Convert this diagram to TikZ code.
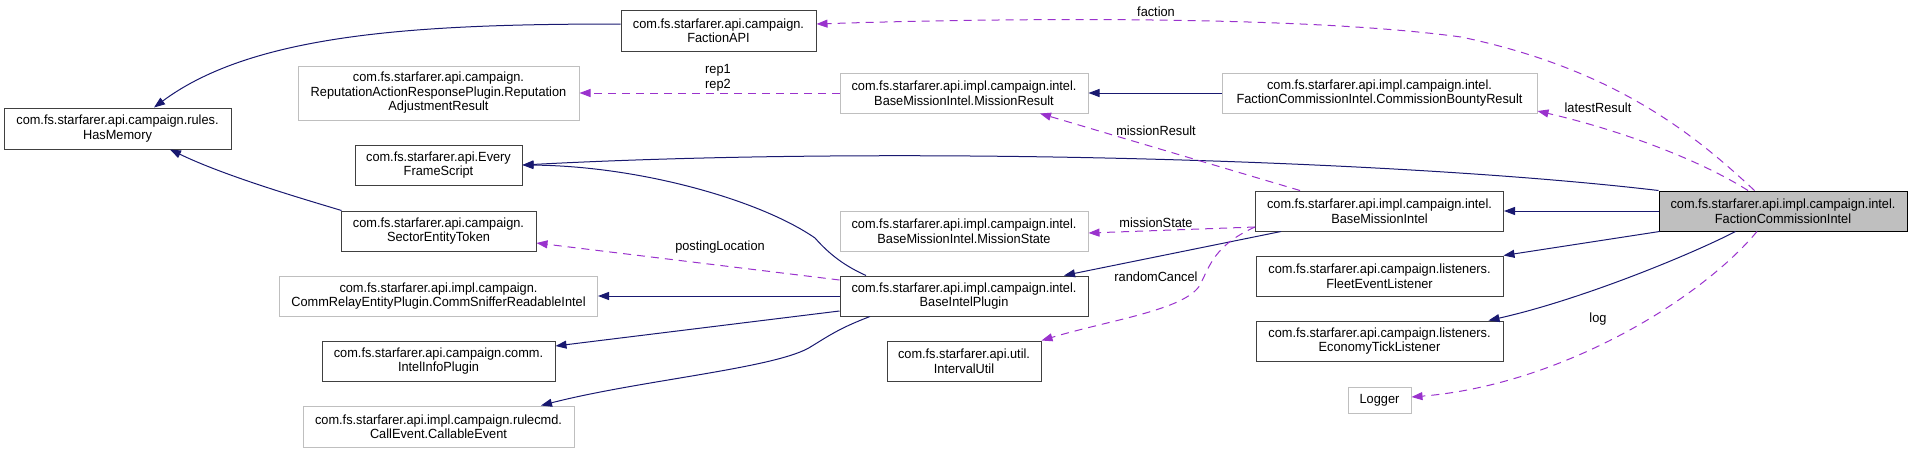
\documentclass[tikz,border=0pt]{standalone}
\usepackage{fontspec}
\setmainfont{Liberation Sans}[FakeStretch=0.96]
\usetikzlibrary{arrows.meta}
\definecolor{inhnavy}{RGB}{25,25,112}
\definecolor{useorchid}{RGB}{154,50,205}
\definecolor{docgrey}{RGB}{64,64,64}
\definecolor{undocgrey}{RGB}{191,191,191}

\begin{document}
\begin{tikzpicture}[x=1pt, y=-1pt,
    cls/.style={draw=docgrey, line width=1pt, inner sep=0pt, align=center,
                font=\fontsize{13.3}{14.5}\selectfont},
    ext/.style={cls, draw=undocgrey},
    self/.style={cls, draw=black, fill=undocgrey},
    inh/.style={line width=1pt, inhnavy, -{Triangle[length=11pt, width=8pt]}},
    use/.style={line width=1pt, useorchid, dash pattern=on 8pt off 6pt,
                -{Triangle[length=11pt, width=8pt]}},
    lbl/.style={font=\fontsize{13.3}{14.5}\selectfont, align=center, inner sep=0pt, text=black}
  ]
    \useasboundingbox (0,0) rectangle (1912,453);

    \node[cls, minimum width=227, minimum height=41] (hasmem) at (117.5,128.5)
      {com.fs.starfarer.api.campaign.rules.\\HasMemory};
    \node[cls, minimum width=195, minimum height=41] (fapi) at (718.5,30.5)
      {com.fs.starfarer.api.campaign.\\FactionAPI};

    \node[ext, minimum width=281, minimum height=54] (repres) at (438.5,93)
      {com.fs.starfarer.api.campaign.\\ReputationActionResponsePlugin.Reputation\\AdjustmentResult};
    \node[cls, minimum width=167, minimum height=40] (every) at (438.5,165)
      {com.fs.starfarer.api.Every\\FrameScript};
    \node[cls, minimum width=195, minimum height=40] (sector) at (438.5,231)
      {com.fs.starfarer.api.campaign.\\SectorEntityToken};
    \node[ext, minimum width=318, minimum height=40] (sniffer) at (438.5,296)
      {com.fs.starfarer.api.impl.campaign.\\CommRelayEntityPlugin.CommSnifferReadableIntel};
    \node[cls, minimum width=233, minimum height=40] (intelinfo) at (438.5,361)
      {com.fs.starfarer.api.campaign.comm.\\IntelInfoPlugin};
    \node[ext, minimum width=271, minimum height=41] (callable) at (438.5,426.5)
      {com.fs.starfarer.api.impl.campaign.rulecmd.\\CallEvent.CallableEvent};

    \node[ext, minimum width=248, minimum height=40] (misresult) at (964,93)
      {com.fs.starfarer.api.impl.campaign.intel.\\BaseMissionIntel.MissionResult};
    \node[ext, minimum width=248, minimum height=40] (misstate) at (964,231)
      {com.fs.starfarer.api.impl.campaign.intel.\\BaseMissionIntel.MissionState};
    \node[cls, minimum width=248, minimum height=40] (baseplugin) at (964,296)
      {com.fs.starfarer.api.impl.campaign.intel.\\BaseIntelPlugin};
    \node[cls, minimum width=154, minimum height=40] (interval) at (964,361)
      {com.fs.starfarer.api.util.\\IntervalUtil};

    \node[ext, minimum width=315, minimum height=40] (bounty) at (1379.5,93)
      {com.fs.starfarer.api.impl.campaign.intel.\\FactionCommissionIntel.CommissionBountyResult};
    \node[cls, minimum width=248, minimum height=40] (basemission) at (1379.5,211)
      {com.fs.starfarer.api.impl.campaign.intel.\\BaseMissionIntel};
    \node[cls, minimum width=247, minimum height=40] (fleet) at (1379.5,276)
      {com.fs.starfarer.api.campaign.listeners.\\FleetEventListener};
    \node[cls, minimum width=247, minimum height=40] (economy) at (1379.5,341)
      {com.fs.starfarer.api.campaign.listeners.\\EconomyTickListener};
    \node[ext, minimum width=63, minimum height=26] (logger) at (1379.5,400) {Logger};

    \node[self, minimum width=248, minimum height=40] (fci) at (1783,211)
      {com.fs.starfarer.api.impl.campaign.intel.\\FactionCommissionIntel};

    \draw[inh] ([yshift=6.5pt]fapi.west) .. controls (420,24) and (254,33) .. ([xshift=36.5pt]hasmem.north);
    \draw[inh] ([xshift=1pt]sector.north west) .. controls (300,198) and (225,176) .. ([xshift=52.5pt]hasmem.south);
    \draw[inh] (fci.north west) .. controls (1400,160) and (900,145) .. (every.east);
    \draw[inh] ([xshift=-98pt]baseplugin.north) .. controls (845,266) and (830,255) .. (815,238)
      .. controls (760,200) and (640,166) .. (every.east);
    \draw[inh] (fci.west) -- (basemission.east);
    \draw[inh] (bounty.west) -- (misresult.east);
    \draw[inh] ([xshift=26pt]basemission.south west) -- ([xshift=100pt]baseplugin.north);
    \draw[inh] (baseplugin.west) -- (sniffer.east);
    \draw[inh] ([yshift=-15pt]baseplugin.west) -- ([yshift=15pt]intelinfo.east);
    \draw[inh] ([xshift=-94pt]baseplugin.south) .. controls (840,328) and (830,335) .. (812,346)
      .. controls (780,368) and (640,380) .. ([xshift=102.5pt]callable.north);
    \draw[inh] ([xshift=1pt]fci.south west) -- (fleet.north east);
    \draw[inh] ([xshift=-47.5pt]fci.south) .. controls (1690,255) and (1580,300) .. ([xshift=109pt]economy.north);

    \draw[use] ([xshift=-28.5pt]fci.north) .. controls (1700,140) and (1620,70) .. (1461,37)
      .. controls (1300,15) and (1000,18) .. ([yshift=6.5pt]fapi.east)
      node[lbl] at (1156,12) {faction};
    \draw[use] ([xshift=-35pt]fci.north) .. controls (1700,160) and (1620,130) .. ([yshift=-18pt]bounty.east)
      node[lbl] at (1598,108) {latestResult};
    \draw[use] ([xshift=-79.5pt]basemission.north) -- ([xshift=76pt]misresult.south)
      node[lbl] at (1156,131) {missionResult};
    \draw[use] ([yshift=-16pt]basemission.west) -- ([yshift=-2pt]misstate.east)
      node[lbl] at (1156,223) {missionState};
    \draw[use] ([yshift=-16pt]basemission.west) .. controls (1215,245) and (1210,265) .. (1200,285)
      .. controls (1185,310) and (1110,320) .. (interval.north east)
      node[lbl] at (1156,277) {randomCancel};
    \draw[use] ([yshift=16pt]baseplugin.west) -- ([yshift=-12pt]sector.east)
      node[lbl] at (720,247) {postingLocation};
    \draw[use] (misresult.west) -- (repres.east)
      node[lbl] at (718,78) {rep1\\rep2};
    \draw[use] ([xshift=-26pt]fci.south) .. controls (1700,300) and (1560,385) .. ([yshift=3pt]logger.east)
      node[lbl] at (1598,319) {log};
\end{tikzpicture}
\end{document}
